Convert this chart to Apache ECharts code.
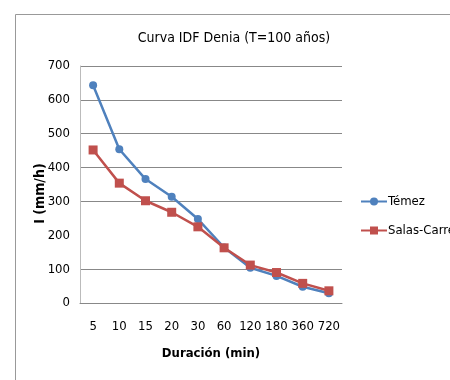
<!DOCTYPE html>
<html><head><meta charset="utf-8">
<script src="https://cdn.jsdelivr.net/npm/echarts@6/dist/echarts.min.js"></script>
<style>html,body{margin:0;padding:0;background:#fff}#c{width:450px;height:380px}</style>
</head><body><div id="c"></div>
<script>
const categories = ['5','10','15','20','30','60','120','180','360','720'];
const temez = [643, 454, 366, 314, 248, 164, 104, 80, 48, 29];
const salas = [452, 354, 302, 268, 225, 163, 112, 90, 58, 36];
const yTicks = [0, 100, 200, 300, 400, 500, 600, 700];
const F = '"Liberation Sans Narrow", "DejaVu Sans Condensed", "Liberation Sans", sans-serif';
const chart = echarts.init(document.getElementById('c'), null, {renderer: 'canvas'});
chart.setOption({
  animation: false,
  backgroundColor: '#fff',
  graphic: [{type: 'rect', shape: {x: 15.5, y: 14.5, width: 600, height: 600}, style: {fill: 'none', stroke: '#999', lineWidth: 1}, silent: true}],
  title: {text: 'Curva IDF Denia (T=100 años)', left: 229, top: 26, textAlign: 'center',
    textStyle: {fontFamily: F, fontSize: 14, fontWeight: 'normal', color: '#000'}},
  legend: {orient: 'vertical', left: 355, top: 190, itemGap: 16, itemWidth: 26, itemHeight: 10,
    textStyle: {fontFamily: F, fontSize: 13, color: '#000', padding: [0,0,0,-4]},
    data: ['Témez', 'Salas-Carreras']},
  grid: {left: 80, right: 108, top: 66, bottom: 77},
  xAxis: {type: 'category', data: categories, boundaryGap: true,
    name: 'Duración (min)', nameLocation: 'middle', nameGap: 44,
    nameTextStyle: {fontFamily: F, fontSize: 13, fontWeight: 'bold', color: '#000'},
    axisLine: {lineStyle: {color: '#888', width: 1}}, axisTick: {show: false},
    axisLabel: {fontFamily: F, fontSize: 13, color: '#000', margin: 17, interval: 0}},
  yAxis: {type: 'value', min: yTicks[0], max: yTicks[yTicks.length-1], interval: 100,
    name: 'I (mm/h)', nameLocation: 'middle', nameGap: 33, nameRotate: 90, nameMoveOverlap: false,
    nameTextStyle: {fontFamily: F, fontSize: 14, fontWeight: 'bold', color: '#000', padding: [0,0,0,-18]},
    axisLine: {show: true, lineStyle: {color: '#bbb', width: 1}}, axisTick: {show: false},
    axisLabel: {fontFamily: F, fontSize: 13, color: '#000', margin: 10},
    splitLine: {show: true, lineStyle: {color: ['#888','#888','rgba(0,0,0,0)','#888','#888','#888','#888','#888'], width: 1}}},
  series: [
    {name: 'Témez', type: 'line', data: temez, symbol: 'circle', symbolSize: 8,
      itemStyle: {color: '#4F81BD'}, lineStyle: {color: '#4F81BD', width: 2.5}},
    {name: 'Salas-Carreras', type: 'line', data: salas, symbol: 'rect', symbolSize: 9,
      itemStyle: {color: '#C0504D'}, lineStyle: {color: '#C0504D', width: 2.5}}
  ]
});
</script></body></html>
